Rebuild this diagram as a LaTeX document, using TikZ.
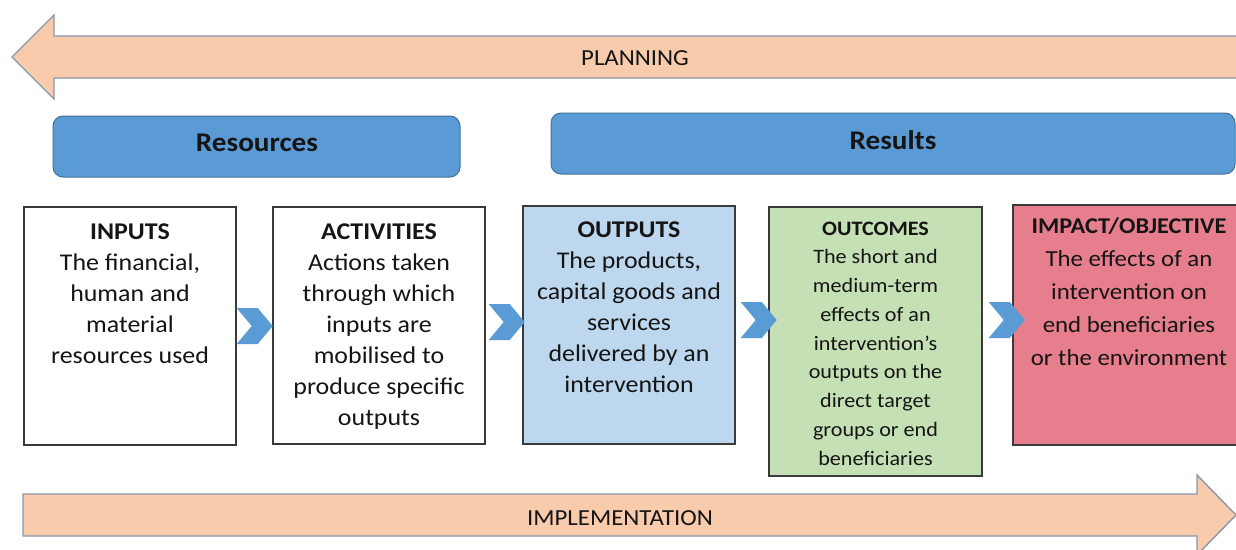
\documentclass[tikz,border=0pt]{standalone}
\usepackage{fontspec}
\setmainfont[FakeStretch=1.08]{Carlito}
\usetikzlibrary{calc}
\definecolor{peach}{HTML}{F8CBAD}
\definecolor{arrowline}{HTML}{8A97AA}
\definecolor{barblue}{HTML}{5B9BD5}
\definecolor{barline}{HTML}{41719C}
\definecolor{outfill}{HTML}{BDD7EE}
\definecolor{outcfill}{HTML}{C5E0B4}
\definecolor{impfill}{HTML}{E77E8E}
\definecolor{boxline}{HTML}{3A3A3A}
\definecolor{ink}{HTML}{151515}
\begin{document}
\begin{tikzpicture}[x=1pt,y=-1pt,
  bigarrow/.style={fill=peach,draw=arrowline,line width=1.4pt,line join=miter},
  bar/.style={rounded corners=10pt,fill=barblue,draw=barline,line width=1pt},
  bartext/.style={font=\fontsize{27}{32}\selectfont\bfseries,text=ink},
  stage/.style={draw=boxline,line width=1.4pt,inner sep=0pt},
  stagetext/.style={align=center,inner sep=0pt,anchor=north,text=ink},
  chev/.style={fill=barblue,draw=none}]
\clip (0,0) rectangle (1236,549);
\fill[white] (0,0) rectangle (1236,549);

% PLANNING arrow (pointing left)
\draw[bigarrow] (12,57) -- (54,15) -- (54,36) -- (1250,36) -- (1250,78) -- (54,78) -- (54,99) -- cycle;
\node[font=\fontsize{23}{26}\selectfont,text=ink] (plan) at (635,58) {PLANNING};

% IMPLEMENTATION arrow (pointing right)
\draw[bigarrow] (23,494) -- (1197,494) -- (1197,475) -- (1236,515) -- (1197,555) -- (1197,536) -- (23,536) -- cycle;
\node[font=\fontsize{23}{26}\selectfont,text=ink] (impl) at (620,518) {IMPLEMENTATION};

% bars
\node[bar,minimum width=407pt,minimum height=61pt] (res) at (256.5,146.5) {};
\node[bartext] (res-t) at (257,143) {Resources};
\node[bar,minimum width=684pt,minimum height=61pt] (rsl) at (893,143.5) {};
\node[bartext] (rsl-t) at (893,140) {Results};

% stage boxes
\node[stage,fill=white,minimum width=212pt,minimum height=238pt] (in) at (130,326) {};
\node[stage,fill=white,minimum width=212pt,minimum height=237pt] (act) at (379,325.5) {};
\node[stage,fill=outfill,minimum width=212pt,minimum height=238pt] (out) at (629,325) {};
\node[stage,fill=outcfill,minimum width=213pt,minimum height=269pt] (outc) at (875.5,341.5) {};
\node[stage,fill=impfill,minimum width=240pt,minimum height=240pt] (imp) at (1133,325) {};

% texts
\node[stagetext,font=\fontsize{24}{31}\selectfont] (in-t) at (130,217.3)
  {\strut\textbf{INPUTS}\\The financial,\\human and\\material\\resources used};
\node[stagetext,font=\fontsize{24}{31}\selectfont] (act-t) at (379,217.3)
  {\strut\textbf{ACTIVITIES}\\Actions taken\\through which\\inputs are\\mobilised to\\produce specific\\outputs};
\node[stagetext,font=\fontsize{24}{31}\selectfont] (out-t) at (629,215.3)
  {\strut\textbf{OUTPUTS}\\The products,\\capital goods and\\services\\delivered by an\\intervention};
\node[stagetext,font=\fontsize{20.5}{28.75}\selectfont] (outc-t) at (875.5,214.9)
  {\strut\textbf{OUTCOMES}\\The short and\\medium-term\\effects of an\\intervention’s\\outputs on the\\direct target\\groups or end\\beneficiaries};
\node[stagetext,font=\fontsize{23}{33}\selectfont] (imp-t) at (1129,209.9)
  {\strut{\fontsize{22.5}{33}\selectfont\textbf{IMPACT/OBJECTIVE}}\\The effects of an\\intervention on\\end beneficiaries\\or the environment};

% chevrons (between consecutive stage boxes)
\fill[chev] ($(in.east|-0,326)+(0,-18)$) -- ++(21,0) -- ++(15,18) -- ++(-15,18) -- ++(-21,0) -- ++(15,-18) -- cycle;
\fill[chev] ($(act.east|-0,322)+(3,-18)$) -- ++(21,0) -- ++(15,18) -- ++(-15,18) -- ++(-21,0) -- ++(15,-18) -- cycle;
\fill[chev] ($(out.east|-0,320)+(5,-18)$) -- ++(21,0) -- ++(15,18) -- ++(-15,18) -- ++(-21,0) -- ++(15,-18) -- cycle;
\fill[chev] ($(outc.east|-0,320)+(6,-18)$) -- ++(21,0) -- ++(15,18) -- ++(-15,18) -- ++(-21,0) -- ++(15,-18) -- cycle;
\end{tikzpicture}
\end{document}
